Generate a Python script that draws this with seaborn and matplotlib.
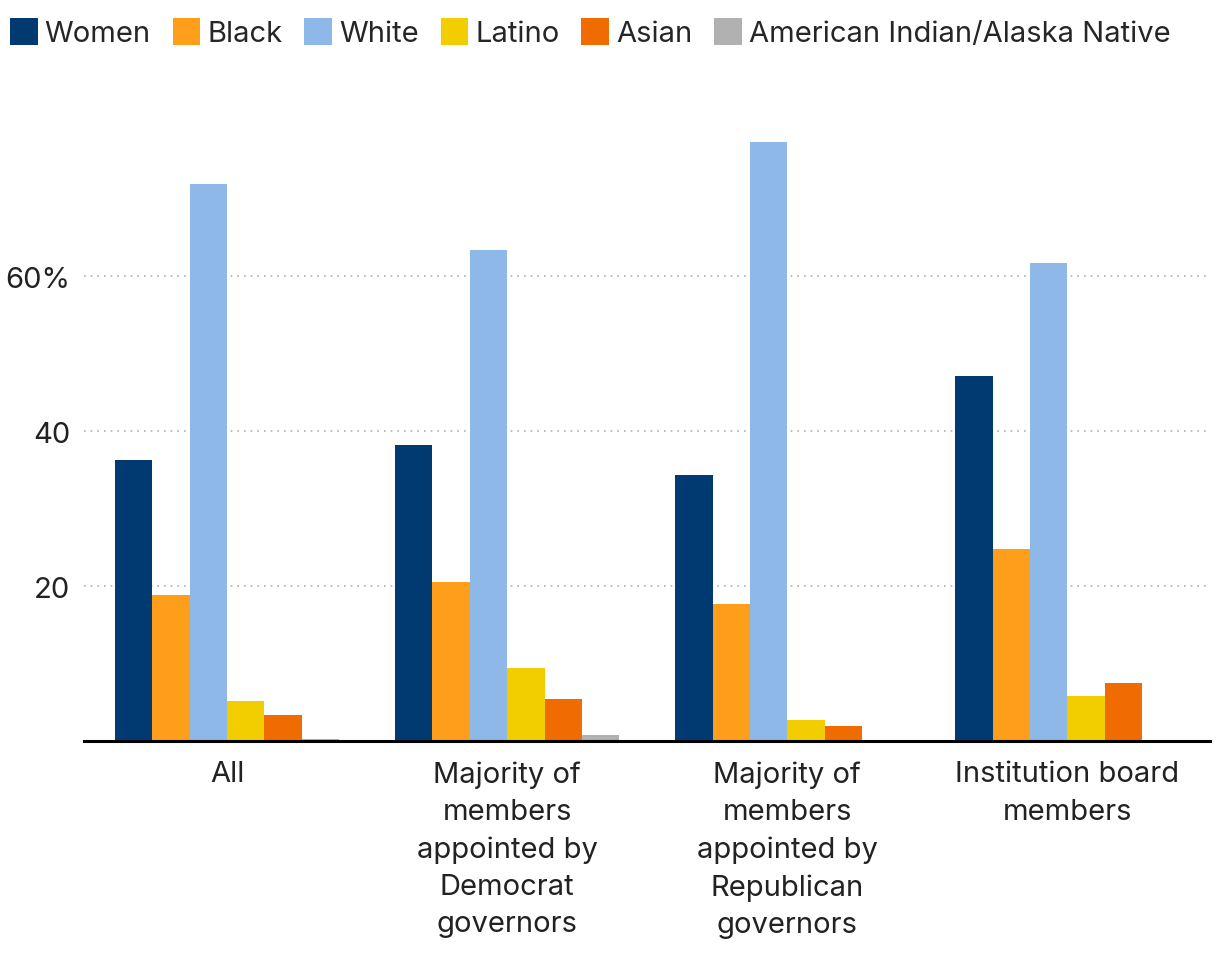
import numpy as np
import pandas as pd
import matplotlib.pyplot as plt
import seaborn as sns

# Chart data
groups = ["All",
          "Majority of\nmembers\nappointed by\nDemocrat\ngovernors",
          "Majority of\nmembers\nappointed by\nRepublican\ngovernors",
          "Institution board\nmembers"]
series = ["Women", "Black", "White", "Latino", "Asian", "American Indian/Alaska Native"]
women = [36.3, 38.2, 34.3, 47.2]
black = [18.8, 20.5, 17.7, 24.8]
white = [71.9, 63.4, 77.3, 61.7]
latino = [5.2, 9.4, 2.7, 5.8]
asian = [3.4, 5.4, 1.9, 7.5]
aian = [0.3, 0.8, np.nan, np.nan]
colors = ["#003A70", "#FF9E1B", "#8DB8E8", "#F2CD00", "#F06C00", "#B1B1B1"]

rows = []
for name, vals in zip(series, [women, black, white, latino, asian, aian]):
	for g, v in zip(groups, vals):
		rows.append({"group": g, "series": name, "value": v})
df = pd.DataFrame(rows)

sns.set_style("white")
plt.rcParams['font.family'] = ['Inter', 'DejaVu Sans']

fig = plt.figure(figsize=(12.2, 9.62), dpi=100)
ax = fig.add_axes([0.069, 0.2287, 0.923, 0.66])

sns.barplot(data=df, x="group", y="value", hue="series", order=groups,
	hue_order=series, palette=colors, width=0.8, errorbar=None,
	saturation=1, linewidth=0, ax=ax, legend=True)

ax.set_ylim(0, 82)
ax.set_xlim(-0.51, 3.51)
ax.set_yticks([20, 40, 60])
ax.set_yticklabels(["20", "40", "60%"])
ax.yaxis.grid(True, linestyle=(0, (1, 3)), color="#b0b0b0", linewidth=1.2)
ax.set_axisbelow(True)
ax.set_xlabel("")
ax.set_ylabel("")
ax.tick_params(axis="both", length=0, labelsize=21, colors="#222222")
ax.tick_params(axis="y", pad=10)
ax.tick_params(axis="x", pad=14)
for lab in ax.get_xticklabels():
	lab.set_linespacing(1.48)
	lab.set_verticalalignment("top")
for s in ["left", "right", "top"]:
	ax.spines[s].set_visible(False)
ax.spines["bottom"].set_color("black")
ax.spines["bottom"].set_linewidth(2.2)

handles, labels = ax.get_legend_handles_labels()
ax.get_legend().remove()
fig.legend(handles, labels, loc="upper left", bbox_to_anchor=(10 / 1220, 1 - 19 / 962),
	ncol=6, frameon=False, fontsize=21, handlelength=0.95, handleheight=1.05,
	handletextpad=0.24, columnspacing=0.75, borderaxespad=0, borderpad=0)

plt.savefig("out.png", dpi=100)
